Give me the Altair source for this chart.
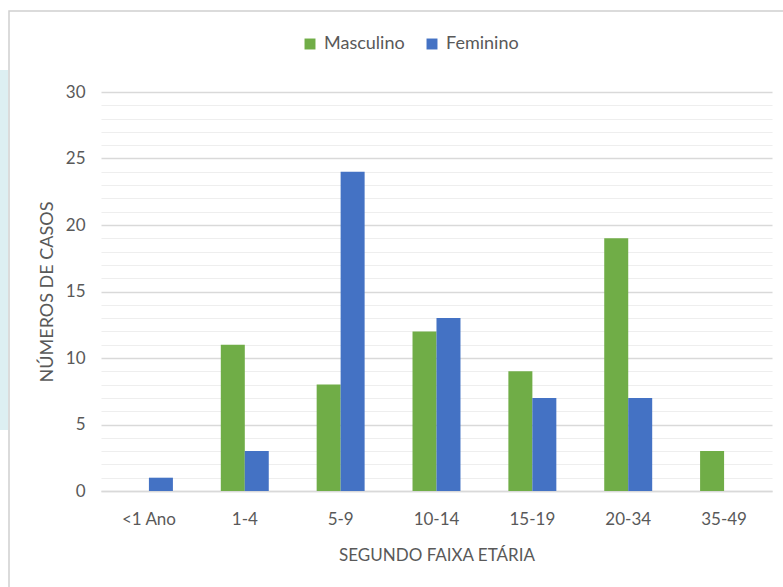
import altair as alt
import pandas as pd

# Age groups and case counts by sex
faixas = ["<1 Ano", "1-4", "5-9", "10-14", "15-19", "20-34", "35-49"]
masculino = [0, 11, 8, 12, 9, 19, 3]
feminino = [1, 3, 24, 13, 7, 7, 0]
sexos = ["Masculino", "Feminino"]
cores = ["#70AD47", "#4472C4"]

rows = []
for i, f in enumerate(faixas):
    rows.append({"faixa": f, "sexo": "Masculino", "casos": masculino[i]})
    rows.append({"faixa": f, "sexo": "Feminino", "casos": feminino[i]})
df = pd.DataFrame(rows)

FONT = "Lato"
GRAY = "#595959"

W, H = 671, 399
PAD = {"left": 101, "top": 92, "right": 11, "bottom": 96}

# outer frame of the chart area
frame = alt.Chart(pd.DataFrame({"k": [0]})).mark_rect(
    fillOpacity=0, stroke="#d0d0d0", strokeWidth=1.5, clip=False
).encode(
    x=alt.value(-92), x2=alt.value(W + 40),
    y=alt.value(-81), y2=alt.value(H + 140),
)

# decorative strip on the left edge
strip = alt.Chart(pd.DataFrame({"k": [0]})).mark_rect(
    fill="#d5ebef", opacity=0.8, clip=False
).encode(
    x=alt.value(-101), x2=alt.value(-93),
    y=alt.value(-22), y2=alt.value(338),
)

bars = alt.Chart(df).mark_bar(size=24).encode(
    x=alt.X(
        "faixa:N", sort=faixas,
        scale=alt.Scale(paddingInner=0.5, paddingOuter=0.25),
        axis=alt.Axis(
            title="SEGUNDO FAIXA ETÁRIA", labelAngle=0, ticks=False, grid=False,
            domain=True, domainColor="#d9d9d9", domainWidth=1.5,
            labelFont=FONT, labelFontSize=17, labelColor=GRAY, labelPadding=20,
            titleFont=FONT, titleFontSize=17, titleFontWeight="normal",
            titleColor=GRAY, titleY=64, titleBaseline="middle",
        ),
    ),
    xOffset=alt.XOffset("sexo:N", sort=sexos),
    y=alt.Y(
        "casos:Q",
        scale=alt.Scale(domain=[0, 30], nice=False),
        axis=alt.Axis(
            title="NÚMEROS  DE CASOS", values=list(range(31)),
            labelExpr="datum.value % 5 === 0 ? datum.label : ''",
            ticks=False, domain=False,
            gridColor={"condition": {"test": "datum.value % 5 === 0", "value": "#d9d9d9"},
                       "value": "#eeeeee"},
            gridWidth={"condition": {"test": "datum.value % 5 === 0", "value": 1.5},
                       "value": 1.2},
            labelFont=FONT, labelFontSize=17, labelColor=GRAY, labelPadding=16,
            titleFont=FONT, titleFontSize=18, titleFontWeight="normal",
            titleColor=GRAY, titleX=-54, titleY=H / 2, titleAngle=-90,
            titleBaseline="middle", titleAlign="center",
        ),
    ),
    color=alt.Color(
        "sexo:N", sort=sexos,
        scale=alt.Scale(domain=sexos, range=cores),
        legend=alt.Legend(
            title=None, orient="none", direction="horizontal",
            legendX=200, legendY=-57, symbolType="square", symbolSize=120,
            symbolStrokeWidth=0, labelFont=FONT, labelFontSize=18,
            labelColor=GRAY, columnPadding=18, labelOffset=5,
        ),
    ),
)

chart = alt.layer(frame, strip, bars).properties(
    width=W, height=H,
    autosize=alt.AutoSizeParams(type="none"),
    padding=PAD,
    background="white",
).configure_view(stroke=None)

chart.save("out.html", embed_options={"renderer": "svg", "actions": False})
